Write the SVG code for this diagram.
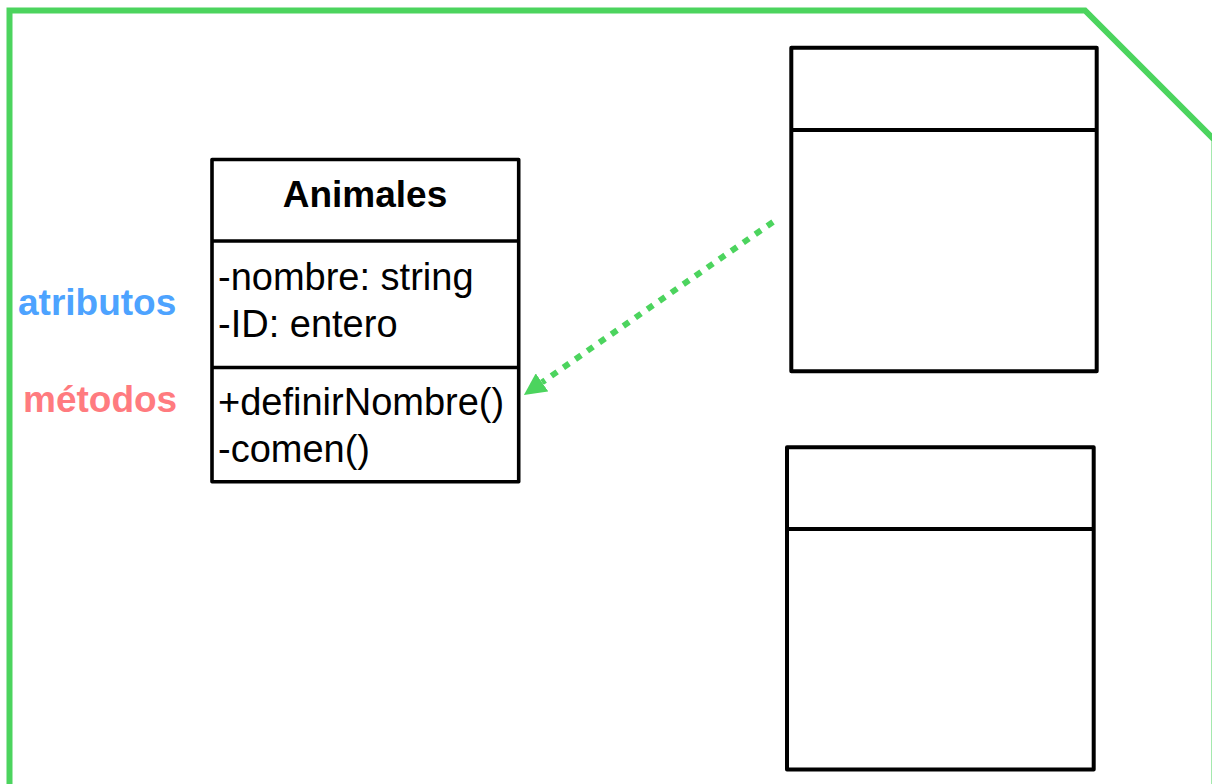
<svg xmlns="http://www.w3.org/2000/svg" width="1212" height="784" viewBox="0 0 1212 784">
  <defs>
    <style>
      .box { fill: #ffffff; stroke: #000000; stroke-linejoin: round; }
      .div { stroke: #000000; fill: none; }
      .member { font-family: "Liberation Sans", Arial, sans-serif; font-size: 38px; fill: #000000; }
      .title { font-family: "Liberation Sans", Arial, sans-serif; font-size: 37px; font-weight: bold; fill: #000000; }
      .label { font-family: "Liberation Sans", Arial, sans-serif; font-size: 37px; font-weight: bold; }
    </style>
    <marker id="arrowHead" viewBox="0 0 22 22" refX="0" refY="11" markerWidth="22" markerHeight="22" markerUnits="userSpaceOnUse" orient="auto">
      <path d="M0,0 L22,11 L0,22 z" fill="#4cd45e"/>
    </marker>
  </defs>
  <rect width="1212" height="784" fill="#ffffff"/>

  <g id="frame">
    <path d="M9.5,790 L9.5,10.5 L1085,10.5 L1214.5,140 L1214.5,790" fill="none" stroke="#4cd45e" stroke-width="6"/>
  </g>

  <g id="labels">
    <text class="label" x="18" y="315" fill="#4da3ff">atributos</text>
    <text class="label" x="23" y="412" fill="#ff7b7f">métodos</text>
  </g>

  <g id="animales">
    <rect class="box" x="212" y="159.5" width="306.7" height="322.2" stroke-width="3.6"/>
    <line class="div" x1="212" y1="241" x2="518.7" y2="241" stroke-width="3.6"/>
    <line class="div" x1="212" y1="367.5" x2="518.7" y2="367.5" stroke-width="3.6"/>
    <text class="title" x="365" y="207" text-anchor="middle">Animales</text>
    <text class="member" x="218" y="290">-nombre: string</text>
    <text class="member" x="218" y="337">-ID: entero</text>
    <text class="member" x="218" y="415">+definirNombre()</text>
    <text class="member" x="218" y="462">-comen()</text>
  </g>

  <g id="class-top">
    <rect class="box" x="791.3" y="47.8" width="305.4" height="323.5" stroke-width="4"/>
    <line class="div" x1="791.3" y1="130" x2="1096.7" y2="130" stroke-width="4"/>
  </g>

  <g id="class-bottom">
    <rect class="box" x="787" y="447.2" width="306.7" height="322.3" stroke-width="4"/>
    <line class="div" x1="787" y1="529" x2="1093.7" y2="529" stroke-width="4"/>
  </g>

  <g id="connectors">
    <line x1="773" y1="222" x2="542" y2="382.4" stroke="#4cd45e" stroke-width="6" stroke-dasharray="7 7.6" marker-end="url(#arrowHead)"/>
  </g>
</svg>
